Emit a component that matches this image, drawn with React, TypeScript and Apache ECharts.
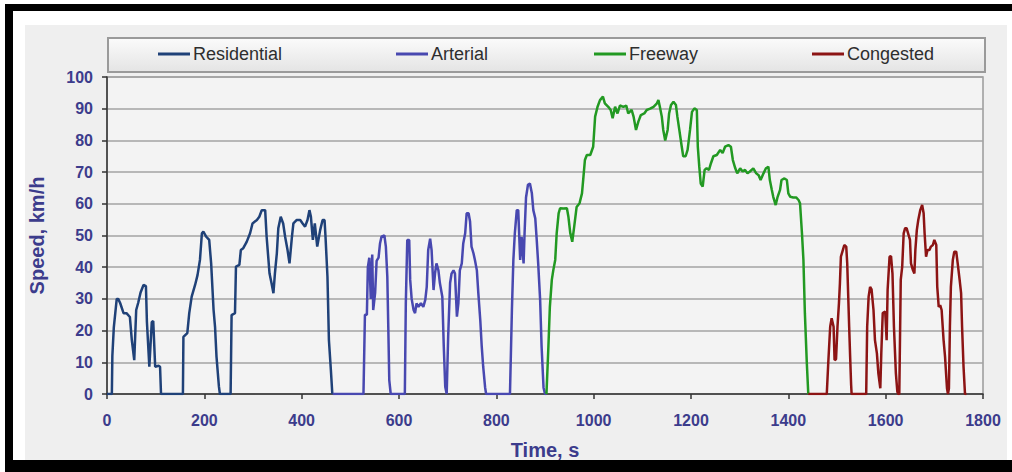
import React, { useEffect, useRef } from "react";
import * as echarts from "echarts";

const seriesNames = ["Residential", "Arterial", "Freeway", "Congested"];
const seriesColors = ["#1f4178", "#4848b0", "#229922", "#8c1414"];
const xTicks = [0, 1800, 200];
const yTicks = [0, 100, 10];

const residential: number[][] = [
  [0, 0], [10, 0], [11, 12], [14, 21], [20, 30], [23, 30], [27, 28.7], [34, 25.5], [40, 25.5],
  [47, 24.3], [51, 17], [56, 10.7], [60, 26.5], [64, 28.7], [69, 32], [75, 34.4], [80, 34],
  [82, 22.8], [87, 8.6], [92, 22.7], [95, 23], [99, 8.6], [106, 8.9], [109, 8.6], [111, 0],
  [156, 0], [157, 18], [165, 19.2], [169, 25.5], [174, 30.7], [181, 34.4], [186, 37.5],
  [191, 42.3], [195, 50.7], [198, 51.2], [204, 49.6], [210, 48.6], [214, 41.2], [219, 26.5],
  [222, 21.2], [225, 11.8], [230, 2.3], [232, 0], [254, 0], [256, 24.9], [263, 25.5],
  [265, 40.2], [272, 40.7], [275, 45.4], [280, 46], [287, 48], [294, 50.7], [299, 53.8],
  [308, 54.9], [313, 55.9], [318, 58], [325, 58], [328, 49.6], [334, 38], [338, 35],
  [342, 31.8], [345, 38], [349, 44.4], [352, 52.3], [357, 55.9], [362, 53.8], [366, 49.6],
  [371, 45.4], [375, 41.2], [380, 49.6], [383, 53.8], [390, 54.9], [397, 54.9], [402, 53.8],
  [407, 52.8], [412, 54.9], [416, 58], [419, 55.9], [423, 48.6], [427, 53.8], [432, 46.5],
  [438, 51.7], [443, 54.9], [447, 54.9], [449, 49.6], [453, 37], [456, 17], [460, 7.6],
  [463, 0], [464, 0],
];

const arterial: number[][] = [
  [464, 0], [527, 0], [530, 25], [534, 25], [536, 40], [539, 43], [542, 30], [545, 44],
  [547, 26.5], [551, 32], [554, 42], [558, 43], [561, 47.5], [564, 49.6], [570, 50],
  [573, 46.5], [576, 37], [578, 21], [580, 4.4], [583, 0], [612, 0], [614, 28.6],
  [617, 48.6], [621, 48.6], [623, 36], [626, 30], [630, 26.5], [633, 25.5], [636, 28.6],
  [640, 27.5], [645, 28.6], [650, 27.5], [654, 29.7], [657, 33.8], [660, 45.4], [664, 49],
  [667, 45.4], [671, 32.8], [674, 38], [677, 41.2], [681, 39], [684, 35], [689, 30.7],
  [692, 15], [695, 2.3], [698, 0], [699, 0], [701, 18], [705, 35], [708, 38], [712, 39],
  [715, 38], [719, 24.4], [722, 28.6], [725, 39], [729, 41.2], [732, 47.5], [736, 50.7],
  [739, 57], [743, 57], [746, 54.4], [749, 46.5], [753, 44.4], [756, 42.3], [760, 39],
  [763, 31.8], [767, 23.3], [770, 15], [773, 8.6], [777, 2], [779, 0], [828, 0],
  [832, 26.5], [835, 42.3], [838, 50.7], [842, 58], [845, 58], [849, 42.3], [852, 49.6],
  [856, 41.2], [858, 50.7], [861, 62], [865, 66], [869, 66.4], [873, 63.3], [876, 58],
  [880, 55.4], [883, 48.6], [886, 41.2], [890, 29.7], [893, 15], [897, 2], [900, 0], [903, 0],
];

const freeway: number[][] = [
  [903, 0], [907, 15], [910, 27.5], [914, 36], [917, 39], [921, 42.3], [924, 50.7], [928, 57],
  [931, 58.6], [938, 58.5], [945, 58.6], [948, 56], [952, 50.7], [956, 48], [960, 52.8],
  [965, 59], [971, 60.2], [976, 63.3], [979, 68.5], [982, 73.8], [986, 75.4], [993, 75.4],
  [999, 78], [1003, 87.5], [1008, 90.6], [1013, 92.7], [1019, 93.8], [1023, 91.7],
  [1030, 90.6], [1035, 89.6], [1039, 87], [1044, 90.6], [1049, 88.5], [1054, 91],
  [1061, 90.6], [1067, 91], [1071, 88.5], [1078, 89.6], [1082, 87.5], [1087, 83.3],
  [1092, 86], [1097, 88], [1104, 88.5], [1109, 89.6], [1116, 90], [1123, 90.6],
  [1130, 91.7], [1133, 92.7], [1136, 90.6], [1140, 87.5], [1143, 83.3], [1147, 80],
  [1152, 83.3], [1155, 88.5], [1159, 91.2], [1164, 92.2], [1169, 91.2], [1172, 87.5],
  [1176, 83.3], [1181, 78], [1184, 75], [1189, 75], [1193, 77], [1198, 83.3], [1202, 89],
  [1207, 90.1], [1212, 89.6], [1214, 78], [1217, 71.7], [1220, 66.4], [1224, 65.4],
  [1228, 70.7], [1232, 71.2], [1237, 70.7], [1241, 72.8], [1246, 75], [1253, 75.4],
  [1260, 77], [1265, 76], [1270, 78], [1277, 78.5], [1282, 78], [1286, 73.8], [1291, 71.2],
  [1295, 69.6], [1301, 71.2], [1306, 70.2], [1311, 70.7], [1316, 69.6], [1321, 70.2],
  [1328, 71.2], [1334, 69.6], [1339, 69], [1343, 67.5], [1349, 69.6], [1354, 71.2],
  [1359, 71.7], [1362, 67.5], [1366, 64.4], [1369, 62.2], [1374, 59.6], [1378, 62.2],
  [1383, 64.4], [1386, 67.5], [1392, 68], [1397, 67.5], [1400, 63.3], [1404, 62.2],
  [1410, 62], [1416, 62], [1421, 61.2], [1424, 60.2], [1428, 50.7], [1431, 42.3],
  [1434, 25.5], [1438, 9.7], [1441, 0],
];

const congested: number[][] = [
  [1441, 0], [1479, 0], [1482, 9.7], [1486, 21.2], [1489, 23.9], [1493, 21.2], [1495, 10.7],
  [1498, 11], [1501, 21.2], [1504, 28.6], [1506, 34.9], [1508, 43.3], [1512, 45.4],
  [1515, 47], [1519, 46.5], [1521, 41.2], [1525, 21.2], [1527, 11.8], [1529, 3], [1530, 0],
  [1560, 0], [1562, 21.2], [1565, 30.7], [1568, 33.8], [1571, 33], [1575, 26.5], [1578, 17],
  [1582, 12.8], [1585, 6.5], [1589, 1.8], [1591, 12.8], [1594, 25.5], [1599, 26], [1602, 17],
  [1604, 32.8], [1608, 43.3], [1611, 43.5], [1614, 38], [1617, 21.2], [1621, 6.5],
  [1624, 0.7], [1626, 0], [1628, 0], [1631, 36], [1634, 40.2], [1637, 50.7], [1640, 52.3],
  [1643, 52.3], [1647, 50.2], [1650, 48.6], [1652, 41.2], [1656, 39.1], [1659, 38],
  [1661, 45.4], [1664, 51.7], [1667, 54.9], [1671, 58], [1675, 59.6], [1678, 57],
  [1680, 50.7], [1683, 43.3], [1686, 45.4], [1690, 45.4], [1693, 46.5], [1697, 47],
  [1700, 48.6], [1704, 47], [1706, 33.8], [1709, 27.5], [1712, 28], [1715, 26.5],
  [1719, 17], [1722, 11.8], [1726, 1.8], [1728, 0], [1730, 1.8], [1732, 21.2], [1734, 33.8],
  [1738, 42.3], [1741, 44.9], [1745, 44.9], [1748, 41.2], [1752, 36], [1755, 31.8],
  [1757, 21.2], [1760, 8.6], [1763, 0], [1766, 0],
];

const seriesData = [residential, arterial, freeway, congested];
const legendLeft = [158, 396, 594, 812];

const FONT = 'Arial, "Liberation Sans", sans-serif';
const LABEL_COLOR = "#3c3c8c";

export default function App() {
  const ref = useRef<HTMLDivElement>(null);

  useEffect(() => {
    if (!ref.current) return;
    const chart = echarts.init(ref.current, undefined, { renderer: "svg" });
    chart.setOption({
      animation: false,
      backgroundColor: "transparent",
      textStyle: { fontFamily: FONT },
      graphic: [
        {
          type: "rect",
          z: -10,
          shape: { x: 108, y: 38, width: 877, height: 34 },
          style: {
            fill: new echarts.graphic.LinearGradient(0, 0, 0, 1, [
              { offset: 0, color: "#fbfbfb" },
              { offset: 1, color: "#e4e4e4" },
            ]),
            stroke: "#9a9a9a",
            lineWidth: 2,
          },
        },
      ],
      legend: seriesNames.map((n, i) => ({
        data: [n],
        left: legendLeft[i],
        top: 45,
        padding: 0,
        icon: "rect",
        itemWidth: 32,
        itemHeight: 3,
        itemGap: 0,
        z: 5,
        textStyle: { fontSize: 18, color: "#2e2e2e", fontFamily: FONT, padding: [0, 0, 0, -2] },
      })),
      grid: {
        left: 107,
        right: 29,
        top: 77,
        bottom: 78,
        show: true,
        backgroundColor: "#f3f3f3",
        borderColor: "#9a9a9a",
        borderWidth: 1.5,
      },
      xAxis: {
        type: "value",
        min: xTicks[0],
        max: xTicks[1],
        interval: xTicks[2],
        name: "Time, s",
        nameLocation: "middle",
        nameGap: 46,
        nameTextStyle: { fontSize: 20, fontWeight: "bold", color: LABEL_COLOR, fontFamily: FONT },
        axisLine: { lineStyle: { color: "#333333", width: 1.5 } },
        axisTick: { length: 5, lineStyle: { color: "#333333", width: 1.5 } },
        axisLabel: {
          fontSize: 16,
          fontWeight: "bold",
          color: LABEL_COLOR,
          margin: 18,
          fontFamily: FONT,
          formatter: (v: number) => String(v),
        },
        splitLine: { show: false },
      },
      yAxis: {
        type: "value",
        min: yTicks[0],
        max: yTicks[1],
        interval: yTicks[2],
        name: "Speed, km/h",
        nameLocation: "middle",
        nameGap: 60,
        nameTextStyle: { fontSize: 20, fontWeight: "bold", color: LABEL_COLOR, fontFamily: FONT },
        axisLine: { show: true, lineStyle: { color: "#333333", width: 1.5 } },
        axisTick: { show: true, length: 5, lineStyle: { color: "#333333", width: 1.5 } },
        axisLabel: {
          fontSize: 16,
          fontWeight: "bold",
          color: LABEL_COLOR,
          margin: 14,
          fontFamily: FONT,
          formatter: (v: number) => String(v),
        },
        splitLine: { lineStyle: { color: "#a3a3a3", width: 1.5 } },
      },
      series: seriesNames.map((n, i) => ({
        name: n,
        type: "line",
        data: seriesData[i],
        showSymbol: false,
        symbol: "none",
        color: seriesColors[i],
        lineStyle: { width: 2.5, color: seriesColors[i] },
        z: 3,
      })),
    });
    return () => chart.dispose();
  }, []);

  return (
    <div style={{ position: "fixed", left: 0, top: 0, width: 1012, height: 472, background: "#ffffff", overflow: "hidden" }}>
      <div style={{ position: "absolute", left: 5, top: 4, right: 0, height: 7, background: "#000" }} />
      <div style={{ position: "absolute", left: 5, top: 4, width: 8, bottom: 0, background: "#000" }} />
      <div style={{ position: "absolute", left: 5, bottom: 0, right: 0, height: 12, background: "#000" }} />
      <div style={{ position: "absolute", left: 25, top: 25, width: 982, height: 435, background: "#efefef" }} />
      <div ref={ref} style={{ position: "absolute", left: 0, top: 0, width: 1012, height: 472 }} />
    </div>
  );
}
